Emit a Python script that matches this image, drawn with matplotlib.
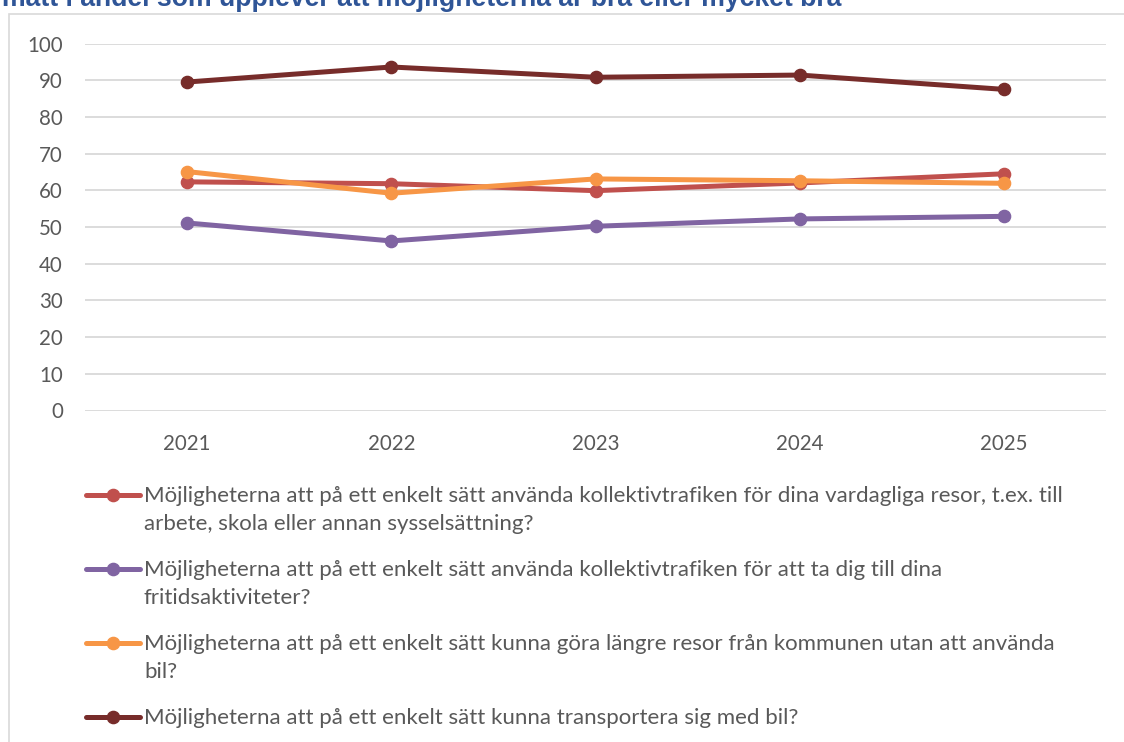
import matplotlib
matplotlib.use("Agg")
import matplotlib.pyplot as plt
from matplotlib.lines import Line2D
from matplotlib.patches import Rectangle

# ---- data ----
years = ["2021", "2022", "2023", "2024", "2025"]
vardag = [62.3, 61.8, 59.9, 62.0, 64.5]
fritid = [51.1, 46.2, 50.2, 52.2, 52.9]
langre = [65.1, 59.2, 63.1, 62.6, 61.9]
bil = [89.5, 93.6, 90.8, 91.4, 87.5]

series_names = [
    ["Möjligheterna att på ett enkelt sätt använda kollektivtrafiken för dina vardagliga resor, t.ex. till",
     "arbete, skola eller annan sysselsättning?"],
    ["Möjligheterna att på ett enkelt sätt använda kollektivtrafiken för att ta dig till dina",
     "fritidsaktiviteter?"],
    ["Möjligheterna att på ett enkelt sätt kunna göra längre resor från kommunen utan att använda",
     "bil?"],
    ["Möjligheterna att på ett enkelt sätt kunna transportera sig med bil?"],
]
series_values = [vardag, fritid, langre, bil]
colors = ["#C0504D", "#8064A2", "#F79646", "#772C2A"]
title = "mätt i andel som upplever att möjligheterna är bra eller mycket bra"
yticks = [0, 10, 20, 30, 40, 50, 60, 70, 80, 90, 100]

W, H = 1124, 742
def fx(x):
    return x / W
def fy(y):
    return 1 - y / H

fig = plt.figure(figsize=(W / 100, H / 100), dpi=100)
fig.patch.set_facecolor("white")

# outer chart border
fig.add_artist(Rectangle((fx(8.5), fy(760)), fx(1130) - fx(8.5), fy(13.5) - fy(760),
                         transform=fig.transFigure, fill=False,
                         edgecolor="#D9D9D9", linewidth=1.2))

# title (cut off at top in reference)
fig.text(fx(2), fy(6.5), title, family="Liberation Sans", weight="bold",
         fontsize=19.2, color="#2F5597", ha="left", va="baseline")

ax = fig.add_axes([fx(85), fy(410.5), fx(1106) - fx(85), fy(43.5) - fy(410.5)])
x = list(range(len(years)))
for vals, c in zip(series_values, colors):
    ax.plot(x, vals, color=c, lw=3.6, marker="o", markersize=8.8,
            solid_capstyle="round", solid_joinstyle="round", zorder=3)

ax.set_xlim(-0.5, len(years) - 0.5)
ax.set_ylim(0, 100)
ax.set_yticks(yticks)
ax.set_xticks(x)
ax.set_xticklabels(years)
for s in ax.spines.values():
    s.set_visible(False)
ax.grid(axis="y", color="#D9D9D9", lw=1.3, zorder=0)
ax.set_axisbelow(True)
ax.tick_params(axis="both", length=0, labelcolor="#595959", labelsize=14.8)
ax.tick_params(axis="y", pad=16)
ax.tick_params(axis="x", pad=17)
for lab in ax.get_xticklabels() + ax.get_yticklabels():
    lab.set_family("Lato")

# legend (manual, below plot)
entry_y = [495, 569, 643, 717]
for lines, c, ey in zip(series_names, colors, entry_y):
    fig.add_artist(Line2D([fx(86), fx(140)], [fy(ey), fy(ey)], transform=fig.transFigure,
                          color=c, lw=3.6, solid_capstyle="round"))
    fig.add_artist(Line2D([fx(113)], [fy(ey)], transform=fig.transFigure,
                          color=c, marker="o", markersize=8.8, lw=0))
    for i, t in enumerate(lines):
        fig.text(fx(144), fy(ey + 6.5 + 28 * i), t, family="Lato", fontsize=16.0,
                 color="#595959", ha="left", va="baseline")

fig.savefig("out.png", dpi=100, facecolor="white")
